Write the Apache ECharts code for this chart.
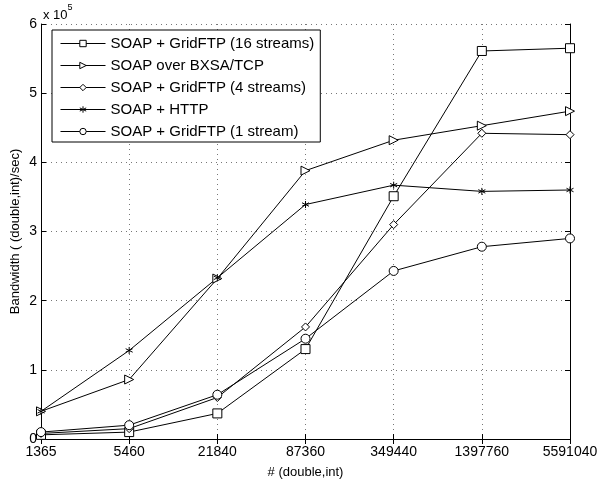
<!DOCTYPE html>
<html>
<head>
<meta charset="utf-8">
<script src="https://cdn.jsdelivr.net/npm/echarts@6/dist/echarts.min.js"></script>
<style>
  html, body { margin: 0; padding: 0; background: #fff; }
  #chart { width: 600px; height: 479px; }
</style>
</head>
<body>
<div id="chart"></div>
<script>
// message sizes (log-spaced, equal steps on the axis)
const sizes = ["1365", "5460", "21840", "87360", "349440", "1397760", "5591040"];
const yTicks = [0, 1, 2, 3, 4, 5, 6];

// bandwidth in units of 10^5 (double,int)/sec
const grid16 = [0.06, 0.10, 0.37, 1.30, 3.51, 5.61, 5.65];
const bxsa = [0.40, 0.86, 2.32, 3.88, 4.32, 4.53, 4.74];
const grid4 = [0.08, 0.15, 0.60, 1.62, 3.10, 4.42, 4.40];
const http = [0.40, 1.28, 2.33, 3.39, 3.67, 3.58, 3.60];
const grid1 = [0.10, 0.20, 0.64, 1.45, 2.43, 2.78, 2.90];

const FONT = "Liberation Sans";
const asterisk = "path://M5,0L5,10M0.7,2.5L9.3,7.5M0.7,7.5L9.3,2.5";

function mk(name, data, symbol, size, rotate) {
  return {
    name: name,
    type: "line",
    data: data,
    symbol: symbol,
    symbolSize: size,
    symbolRotate: rotate || 0,
    showAllSymbol: true,
    lineStyle: { color: "#000", width: 1 },
    itemStyle: { color: "#fff", borderColor: "#000", borderWidth: 1 },
    emphasis: { disabled: true },
    animation: false
  };
}

const chart = echarts.init(document.getElementById("chart"));
chart.setOption({
  backgroundColor: "#fff",
  animation: false,
  textStyle: { fontFamily: FONT, color: "#000" },
  grid: { left: 41, right: 30, top: 24, bottom: 40, containLabel: false, outerBoundsMode: "none" },
  legend: {
    orient: "vertical",
    left: 52,
    top: 30,
    itemWidth: 45,
    itemHeight: 8,
    itemGap: 7,
    padding: [6, 6, 3, 8],
    borderColor: "#000",
    borderWidth: 1,
    backgroundColor: "#fff",
    lineStyle: { width: 1 },
    itemStyle: { borderWidth: 1 },
    textStyle: { fontFamily: FONT, fontSize: 15, color: "#000" },
    data: [
      "SOAP + GridFTP (16 streams)",
      "SOAP over BXSA/TCP",
      "SOAP + GridFTP (4 streams)",
      "SOAP + HTTP",
      "SOAP + GridFTP (1 stream)"
    ]
  },
  xAxis: [
    {
      type: "category",
      data: sizes,
      boundaryGap: false,
      name: "# (double,int)",
      nameLocation: "middle",
      nameGap: 27,
      nameTextStyle: { fontFamily: FONT, fontSize: 13, color: "#000" },
      axisLine: { lineStyle: { color: "#000", width: 1 } },
      axisTick: { inside: true, length: 5, lineStyle: { color: "#000" } },
      axisLabel: { fontFamily: FONT, fontSize: 14, color: "#000", margin: 6, interval: 0 },
      splitLine: { show: true, lineStyle: { color: "#777", type: [1, 4], width: 1 } }
    },
    {
      type: "category",
      data: sizes,
      boundaryGap: false,
      position: "top",
      axisLine: { lineStyle: { color: "#000", width: 1 } },
      axisTick: { inside: true, length: 5, lineStyle: { color: "#000" } },
      axisLabel: { show: false },
      splitLine: { show: false }
    }
  ],
  yAxis: [
    {
      type: "value",
      min: 0,
      max: 6,
      interval: 1,
      name: "Bandwidth ( (double,int)/sec)",
      nameLocation: "middle",
      nameGap: 19,
      nameMoveOverlap: false,
      nameTextStyle: { fontFamily: FONT, fontSize: 13, color: "#000" },
      axisLine: { show: true, lineStyle: { color: "#000", width: 1 } },
      axisTick: { show: true, inside: true, length: 5, lineStyle: { color: "#000" } },
      axisLabel: { fontFamily: FONT, fontSize: 14, color: "#000", margin: 4,
        formatter: function (v) { return yTicks.indexOf(v) >= 0 ? String(v) : ""; } },
      splitLine: { show: true, lineStyle: { color: "#777", type: [1, 4], width: 1 } }
    },
    {
      type: "value",
      min: 0,
      max: 6,
      interval: 1,
      position: "right",
      axisLine: { show: true, lineStyle: { color: "#000", width: 1 } },
      axisTick: { show: true, inside: true, length: 5, lineStyle: { color: "#000" } },
      axisLabel: { show: false },
      splitLine: { show: false }
    }
  ],
  graphic: [
    {
      type: "text",
      left: 43,
      top: 3,
      style: {
        text: "{a|x 10}{b|5}",
        rich: {
          a: { fontFamily: FONT, fontSize: 13, fill: "#000", padding: [6, 0, 0, 0] },
          b: { fontFamily: FONT, fontSize: 9, fill: "#000", verticalAlign: "top" }
        }
      }
    }
  ],
  series: [
    mk("SOAP + GridFTP (16 streams)", grid16, "rect", 9),
    mk("SOAP over BXSA/TCP", bxsa, "triangle", 9, -90),
    mk("SOAP + GridFTP (4 streams)", grid4, "diamond", 8),
    mk("SOAP + HTTP", http, asterisk, 7),
    mk("SOAP + GridFTP (1 stream)", grid1, "circle", 9)
  ]
});
</script>
</body>
</html>
